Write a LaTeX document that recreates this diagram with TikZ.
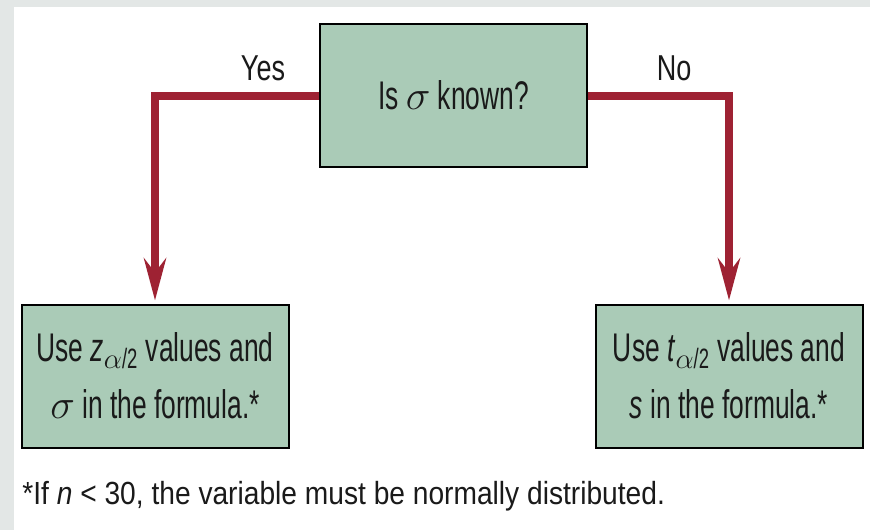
\documentclass[tikz,border=0pt]{standalone}
\usepackage{fontspec}
\setmainfont{Liberation Sans}
% narrow cuts of the same face
\newfontfamily\boxfont[FakeStretch=0.66]{Liberation Sans}
\newfontfamily\answerfont[FakeStretch=0.75]{Liberation Sans}
\newfontfamily\notefont[FakeStretch=0.88]{Liberation Sans}
\usepackage{xcolor}
\usepackage{tikz}
\usetikzlibrary{arrows.meta,positioning}
\definecolor{DecisionGreen}{HTML}{AACBB7}
\definecolor{FlowRed}{HTML}{9E2233}
\definecolor{PaperGrey}{HTML}{E3E7E6}
\definecolor{InkBlack}{HTML}{1A1A1A}

\begin{document}
\begin{tikzpicture}[
  x=0.5pt, y=-0.5pt,
  box/.style={draw=black,line width=1pt,fill=DecisionGreen,inner sep=0pt,
    minimum width=133.5pt,minimum height=71.5pt,align=center,
    text=InkBlack,font=\boxfont\fontsize{20}{28.5}\selectfont},
  flow/.style={draw=FlowRed,line width=4pt,
    -{Stealth[length=21pt,width=11pt,inset=7pt]},shorten >=1.5pt},
  answer/.style={anchor=base,text=InkBlack,font=\answerfont\fontsize{18}{20}\selectfont}
]
  % paper and page
  \fill[PaperGrey] (0,0) rectangle (870,530);
  \fill[white] (14,7) rectangle (870,530);
  \useasboundingbox (0,0) rectangle (870,530);

  \node[box] (known) at (453.5,95.5) {Is $\sigma$ known?};
  \node[box] (zval) at (155,376)
    {Use \textit{z}\textsubscript{$\alpha$/2} values and\\$\sigma$ in the formula.*};
  \node[box] (tval) at (729,376)
    {Use \textit{t}\textsubscript{$\alpha$/2} values and\\\textit{s} in the formula.*};

  \draw[flow] (known.west) -| (zval.north);
  \draw[flow] (known.east) -| (tval.north);

  \node[answer] (yes) at (263,80) {Yes};
  \node[answer] (no) at (674,80) {No};

  \node[anchor=base west,inner sep=0pt,text=InkBlack,font=\notefont\fontsize{16}{18}\selectfont]
    (note) at (22,504) {*If \textit{n} < 30, the variable must be normally distributed.};
\end{tikzpicture}
\end{document}
